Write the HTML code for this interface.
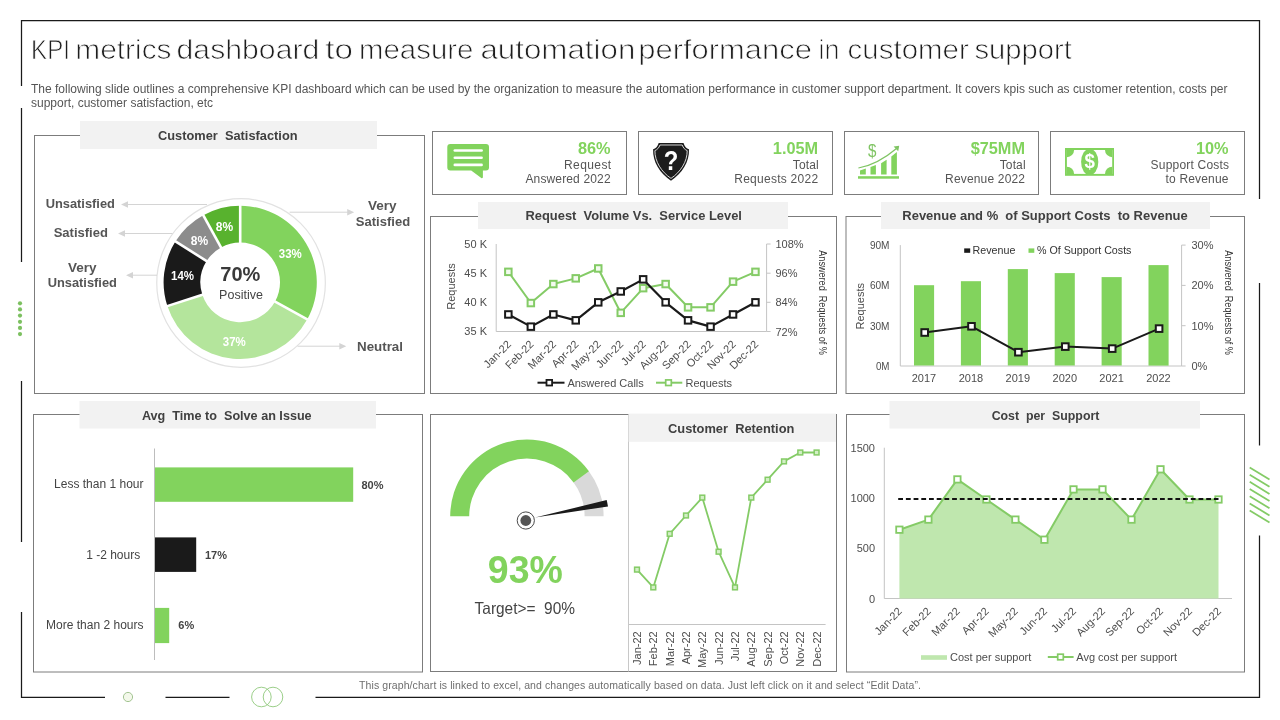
<!DOCTYPE html>
<html><head><meta charset="utf-8"><title>KPI metrics dashboard</title>
<style>
html,body{margin:0;padding:0;background:#fff;}
body{width:1280px;height:720px;overflow:hidden;font-family:"Liberation Sans",sans-serif;}
svg{display:block;will-change:transform;font-family:"Liberation Sans",sans-serif;}
</style></head><body>
<svg width="1280" height="720" viewBox="0 0 1280 720">
<rect width="1280" height="720" fill="#fff"/>
<g stroke="#1a1a1a" stroke-width="1.25" fill="none" stroke-linecap="butt">
<path d="M21.5 86 V20.5 H1259.5 V199"/>
<path d="M21.5 108 V262"/>
<path d="M21.5 381 V542"/>
<path d="M21.5 612 V697.4 H105"/>
<path d="M165.5 697.4 H229.5"/>
<path d="M315.5 697.4 H1259.5 V535.5"/>
<path d="M1259.5 283 V445.5"/>
</g>
<circle cx="20" cy="303.3" r="2.1" fill="#7cc060"/>
<circle cx="20" cy="309.4" r="2.1" fill="#7cc060"/>
<circle cx="20" cy="315.6" r="2.1" fill="#7cc060"/>
<circle cx="20" cy="321.8" r="2.1" fill="#7cc060"/>
<circle cx="20" cy="327.9" r="2.1" fill="#7cc060"/>
<circle cx="20" cy="334.1" r="2.1" fill="#7cc060"/>
<g stroke="#84cb66" stroke-width="1.8">
<line x1="1249.7" y1="467.5" x2="1269.5" y2="479.6"/>
<line x1="1249.7" y1="474.7" x2="1269.5" y2="486.8"/>
<line x1="1249.7" y1="481.8" x2="1269.5" y2="493.9"/>
<line x1="1249.7" y1="489.0" x2="1269.5" y2="501.1"/>
<line x1="1249.7" y1="496.2" x2="1269.5" y2="508.3"/>
<line x1="1249.7" y1="503.4" x2="1269.5" y2="515.5"/>
<line x1="1249.7" y1="510.5" x2="1269.5" y2="522.6"/>
</g>
<circle cx="128" cy="697" r="4.6" fill="#f3f8ea" stroke="#a3c492" stroke-width="1"/>
<circle cx="261.4" cy="697" r="9.8" fill="none" stroke="#9ccf8a" stroke-width="1"/>
<circle cx="273" cy="697" r="9.8" fill="none" stroke="#9ccf8a" stroke-width="1"/>
<text x="31.12" y="59" font-size="27" fill="#1e1e1e" stroke="#fff" stroke-width="0.75" textLength="38.84" lengthAdjust="spacingAndGlyphs">KPI</text>
<text x="75.39" y="59" font-size="27" fill="#1e1e1e" stroke="#fff" stroke-width="0.75" textLength="96.11" lengthAdjust="spacingAndGlyphs">metrics</text>
<text x="176.58" y="59" font-size="27" fill="#1e1e1e" stroke="#fff" stroke-width="0.75" textLength="142.72" lengthAdjust="spacingAndGlyphs">dashboard</text>
<text x="325.3" y="59" font-size="27" fill="#1e1e1e" stroke="#fff" stroke-width="0.75" textLength="27.79" lengthAdjust="spacingAndGlyphs">to</text>
<text x="359.02" y="59" font-size="27" fill="#1e1e1e" stroke="#fff" stroke-width="0.75" textLength="114.42" lengthAdjust="spacingAndGlyphs">measure</text>
<text x="480.44" y="59" font-size="27" fill="#1e1e1e" stroke="#fff" stroke-width="0.75" textLength="154.91" lengthAdjust="spacingAndGlyphs">automation</text>
<text x="638.31" y="59" font-size="27" fill="#1e1e1e" stroke="#fff" stroke-width="0.75" textLength="173.6" lengthAdjust="spacingAndGlyphs">performance</text>
<text x="818.61" y="59" font-size="27" fill="#1e1e1e" stroke="#fff" stroke-width="0.75" textLength="20.89" lengthAdjust="spacingAndGlyphs">in</text>
<text x="847.61" y="59" font-size="27" fill="#1e1e1e" stroke="#fff" stroke-width="0.75" textLength="121.14" lengthAdjust="spacingAndGlyphs">customer</text>
<text x="974.42" y="59" font-size="27" fill="#1e1e1e" stroke="#fff" stroke-width="0.75" textLength="97.45" lengthAdjust="spacingAndGlyphs">support</text>
<text x="31.0" y="92.5" font-size="12" text-anchor="start" fill="#555" font-weight="normal" textLength="1196.5" lengthAdjust="spacing">The following slide outlines a comprehensive KPI dashboard which can be used by the organization to measure the automation performance in customer support department. It covers kpis such as customer retention, costs per</text>
<text x="31.0" y="106.5" font-size="12" text-anchor="start" fill="#555" font-weight="normal" >support, customer satisfaction, etc</text>
<rect x="34.5" y="135.5" width="390.0" height="258.0" fill="#fff" stroke="#7c7c7c" stroke-width="1"/>
<rect x="80" y="121" width="297" height="28" fill="#f2f2f2"/><text x="227.8" y="139.8" font-size="13.3" text-anchor="middle" fill="#404040" font-weight="bold" xml:space="preserve" textLength="139.5" lengthAdjust="spacingAndGlyphs">Customer  Satisfaction</text>
<circle cx="241.05" cy="283" r="84.3" fill="#fff" stroke="#e2e2e2" stroke-width="1.2"/>
<path d="M240.20 205.80 A76.6 76.6 0 0 1 307.33 319.30 L275.08 301.57 A39.8 39.8 0 0 0 240.20 242.60 Z" fill="#82d35d"/>
<path d="M307.33 319.30 A76.6 76.6 0 0 1 167.35 306.07 L202.35 294.70 A39.8 39.8 0 0 0 275.08 301.57 Z" fill="#b4e59c"/>
<path d="M167.35 306.07 A76.6 76.6 0 0 1 175.52 241.36 L206.60 261.07 A39.8 39.8 0 0 0 202.35 294.70 Z" fill="#1a1a1a"/>
<path d="M175.52 241.36 A76.6 76.6 0 0 1 203.30 215.27 L221.03 247.52 A39.8 39.8 0 0 0 206.60 261.07 Z" fill="#8c8c8c"/>
<path d="M203.30 215.27 A76.6 76.6 0 0 1 240.20 205.80 L240.20 242.60 A39.8 39.8 0 0 0 221.03 247.52 Z" fill="#58b22e"/>
<line x1="240.20" y1="243.60" x2="240.20" y2="204.80" stroke="#fff" stroke-width="2.6"/>
<line x1="274.20" y1="301.09" x2="308.20" y2="319.78" stroke="#fff" stroke-width="2.6"/>
<line x1="203.30" y1="294.39" x2="166.40" y2="306.38" stroke="#fff" stroke-width="2.6"/>
<line x1="207.44" y1="261.61" x2="174.68" y2="240.82" stroke="#fff" stroke-width="2.6"/>
<line x1="221.51" y1="248.40" x2="202.82" y2="214.40" stroke="#fff" stroke-width="2.6"/>
<text x="290.3" y="257.6" font-size="12" text-anchor="middle" fill="#fff" font-weight="bold" textLength="23" lengthAdjust="spacingAndGlyphs">33%</text>
<text x="234.3" y="345.6" font-size="12" text-anchor="middle" fill="#fff" font-weight="bold" textLength="23" lengthAdjust="spacingAndGlyphs">37%</text>
<text x="182.5" y="279.9" font-size="12" text-anchor="middle" fill="#fff" font-weight="bold" textLength="23" lengthAdjust="spacingAndGlyphs">14%</text>
<text x="199.5" y="244.7" font-size="12" text-anchor="middle" fill="#fff" font-weight="bold" >8%</text>
<text x="224.4" y="230.6" font-size="12" text-anchor="middle" fill="#fff" font-weight="bold" >8%</text>
<text x="240.3" y="281.4" font-size="20" text-anchor="middle" fill="#3a3a3a" font-weight="bold" >70%</text>
<text x="241.0" y="299.1" font-size="12.5" text-anchor="middle" fill="#444" font-weight="normal" >Positive</text>
<text x="80.3" y="207.7" font-size="13.4" text-anchor="middle" fill="#555" font-weight="bold" textLength="69.3" lengthAdjust="spacingAndGlyphs">Unsatisfied</text>
<text x="80.8" y="236.5" font-size="13.4" text-anchor="middle" fill="#555" font-weight="bold" textLength="54.3" lengthAdjust="spacingAndGlyphs">Satisfied</text>
<text x="82.3" y="271.8" font-size="13.4" text-anchor="middle" fill="#555" font-weight="bold" textLength="28.6" lengthAdjust="spacingAndGlyphs">Very</text>
<text x="82.3" y="287.2" font-size="13.4" text-anchor="middle" fill="#555" font-weight="bold" textLength="69.3" lengthAdjust="spacingAndGlyphs">Unsatisfied</text>
<text x="382.3" y="209.7" font-size="13.4" text-anchor="middle" fill="#555" font-weight="bold" textLength="28.6" lengthAdjust="spacingAndGlyphs">Very</text>
<text x="383.0" y="225.5" font-size="13.4" text-anchor="middle" fill="#555" font-weight="bold" textLength="54.3" lengthAdjust="spacingAndGlyphs">Satisfied</text>
<text x="380.0" y="350.7" font-size="13.4" text-anchor="middle" fill="#555" font-weight="bold" textLength="46" lengthAdjust="spacingAndGlyphs">Neutral</text>
<line x1="126" y1="204.5" x2="207" y2="204.5" stroke="#d4d4d4" stroke-width="1"/><path d="M121 204.5 l7 -3.2 v6.4z" fill="#d4d4d4"/>
<line x1="123" y1="233.5" x2="172.5" y2="233.5" stroke="#d4d4d4" stroke-width="1"/><path d="M118 233.5 l7 -3.2 v6.4z" fill="#d4d4d4"/>
<line x1="131" y1="275.2" x2="157" y2="275.2" stroke="#d4d4d4" stroke-width="1"/><path d="M126 275.2 l7 -3.2 v6.4z" fill="#d4d4d4"/>
<line x1="289.6" y1="212.2" x2="349.2" y2="212.2" stroke="#d4d4d4" stroke-width="1"/><path d="M354.2 212.2 l-7 -3.2 v6.4z" fill="#d4d4d4"/>
<line x1="297.5" y1="346.2" x2="341.3" y2="346.2" stroke="#d4d4d4" stroke-width="1"/><path d="M346.3 346.2 l-7 -3.2 v6.4z" fill="#d4d4d4"/>
<rect x="432.5" y="131.5" width="194.0" height="63" fill="#fff" stroke="#7c7c7c" stroke-width="1"/>
<text x="610.6" y="153.6" font-size="16.3" text-anchor="end" fill="#82d35d" font-weight="bold" >86%</text>
<text x="611.2" y="169.2" font-size="12" text-anchor="end" fill="#555" font-weight="normal" textLength="47.2" lengthAdjust="spacing">Request</text>
<text x="610.6" y="183.2" font-size="12" text-anchor="end" fill="#555" font-weight="normal" textLength="85.2" lengthAdjust="spacing">Answered 2022</text>
<rect x="638.5" y="131.5" width="194.0" height="63" fill="#fff" stroke="#7c7c7c" stroke-width="1"/>
<text x="818.1" y="153.6" font-size="16.3" text-anchor="end" fill="#82d35d" font-weight="bold" >1.05M</text>
<text x="818.7" y="169.2" font-size="12" text-anchor="end" fill="#555" font-weight="normal" textLength="25.9" lengthAdjust="spacing">Total</text>
<text x="818.1" y="183.2" font-size="12" text-anchor="end" fill="#555" font-weight="normal" textLength="83.9" lengthAdjust="spacing">Requests 2022</text>
<rect x="844.5" y="131.5" width="194.0" height="63" fill="#fff" stroke="#7c7c7c" stroke-width="1"/>
<text x="1025.0" y="153.6" font-size="16.3" text-anchor="end" fill="#82d35d" font-weight="bold" >$75MM</text>
<text x="1025.6" y="169.2" font-size="12" text-anchor="end" fill="#555" font-weight="normal" textLength="25.9" lengthAdjust="spacing">Total</text>
<text x="1025.0" y="183.2" font-size="12" text-anchor="end" fill="#555" font-weight="normal" textLength="79.9" lengthAdjust="spacing">Revenue 2022</text>
<rect x="1050.5" y="131.5" width="194.0" height="63" fill="#fff" stroke="#7c7c7c" stroke-width="1"/>
<text x="1228.5" y="153.6" font-size="16.3" text-anchor="end" fill="#82d35d" font-weight="bold" >10%</text>
<text x="1229.1" y="169.2" font-size="12" text-anchor="end" fill="#555" font-weight="normal" textLength="78.5" lengthAdjust="spacing">Support Costs</text>
<text x="1228.5" y="183.2" font-size="12" text-anchor="end" fill="#555" font-weight="normal" textLength="63" lengthAdjust="spacing">to Revenue</text>
<path d="M450.3 144.1 H486 a3 3 0 0 1 3 3 V167.5 a3 3 0 0 1 -3 3 H482.9 V177.2 a1 1 0 0 1 -1.6 0.8 L471.2 170.5 H450.3 a3 3 0 0 1 -3 -3 V147.1 a3 3 0 0 1 3 -3 Z" fill="#82d35d"/>
<line x1="454.8" y1="150.5" x2="481.6" y2="150.5" stroke="#fff" stroke-width="2.6" stroke-linecap="round"/>
<line x1="454.8" y1="157.7" x2="481.6" y2="157.7" stroke="#fff" stroke-width="2.6" stroke-linecap="round"/>
<line x1="454.8" y1="164.9" x2="481.6" y2="164.9" stroke="#fff" stroke-width="2.6" stroke-linecap="round"/>
<path d="M658.7 143 H683.5 C684.5 146.5 686.5 148.5 689 149.2 C689.5 162 682 173.5 671 180.7 C660 173.5 652.6 162 653.1 149.2 C655.7 148.5 657.7 146.5 658.7 143 Z" fill="#1c1c1c"/>
<path d="M660 145 H682.2 C683.3 148 685 149.8 687.2 150.6 C687.3 161.5 680.7 171.8 671 178.4 C661.3 171.8 654.8 161.5 654.9 150.6 C657.1 149.8 658.9 148 660 145 Z" fill="none" stroke="#e8e8e8" stroke-width="0.9"/>
<text x="671.1" y="170.1" font-size="27" text-anchor="middle" fill="#fff" font-weight="bold" textLength="14.6" lengthAdjust="spacingAndGlyphs">?</text>
<rect x="858" y="176.2" width="41" height="2.5" fill="#82d35d"/>
<path d="M860 174.6 V170.5 L865.8 168.6 V174.6 Z" fill="#82d35d"/>
<path d="M870.5 174.6 V167 L875.9 165.1 V174.6 Z" fill="#82d35d"/>
<path d="M881.1 174.6 V163.2 L886.6 159.7 V174.6 Z" fill="#82d35d"/>
<path d="M891.3 174.6 V156.6 L896.9 152 V174.6 Z" fill="#82d35d"/>
<path d="M858.4 168 Q 877.6 164.5 896.8 148.2" fill="none" stroke="#7fc463" stroke-width="1.25"/>
<path d="M899.2 145.8 L893.6 146.6 L898.2 151.3 Z" fill="#7fc463"/>
<text x="872.3" y="156.7" font-size="17.5" text-anchor="middle" fill="#7fc463" font-weight="normal" textLength="8.4" lengthAdjust="spacingAndGlyphs">$</text>
<rect x="1065" y="148" width="49" height="27.8" fill="#82d35d"/>
<rect x="1066.9" y="150" width="45.3" height="23.9" fill="#fff"/>
<circle cx="1066.9" cy="150" r="7.2" fill="#82d35d" clip-path="url(#noteclip)"/>
<circle cx="1112.2" cy="150" r="7.2" fill="#82d35d" clip-path="url(#noteclip)"/>
<circle cx="1066.9" cy="173.9" r="7.2" fill="#82d35d" clip-path="url(#noteclip)"/>
<circle cx="1112.2" cy="173.9" r="7.2" fill="#82d35d" clip-path="url(#noteclip)"/>
<ellipse cx="1089.7" cy="161.9" rx="8.6" ry="13.2" fill="#82d35d" clip-path="url(#noteclip2)"/>
<text x="1089.7" y="168.3" font-size="20" text-anchor="middle" fill="#fff" font-weight="bold" textLength="10.4" lengthAdjust="spacingAndGlyphs">$</text>
<defs><clipPath id="noteclip"><rect x="1066.9" y="150" width="45.3" height="23.9"/></clipPath><clipPath id="noteclip2"><rect x="1065" y="148" width="49" height="27.8"/></clipPath></defs>
<rect x="430.5" y="216.5" width="406.0" height="177.0" fill="#fff" stroke="#7c7c7c" stroke-width="1"/>
<rect x="478" y="202" width="310" height="27" fill="#f2f2f2"/><text x="633.7" y="219.8" font-size="13.3" text-anchor="middle" fill="#404040" font-weight="bold" xml:space="preserve" textLength="216.5" lengthAdjust="spacingAndGlyphs">Request  Volume Vs.  Service Level</text>
<path d="M496.2 244 V331.5 H766.6 V244" fill="none" stroke="#c4c4c4" stroke-width="1"/>
<line x1="766.6" y1="244.0" x2="770.6" y2="244.0" stroke="#c4c4c4"/>
<text x="487.0" y="248.0" font-size="11" text-anchor="end" fill="#4d4d4d" font-weight="normal" >50 K</text>
<text x="775.5" y="248.0" font-size="11" text-anchor="start" fill="#4d4d4d" font-weight="normal" >108%</text>
<line x1="766.6" y1="273.2" x2="770.6" y2="273.2" stroke="#c4c4c4"/>
<text x="487.0" y="277.0" font-size="11" text-anchor="end" fill="#4d4d4d" font-weight="normal" >45 K</text>
<text x="775.5" y="277.2" font-size="11" text-anchor="start" fill="#4d4d4d" font-weight="normal" >96%</text>
<line x1="766.6" y1="302.3" x2="770.6" y2="302.3" stroke="#c4c4c4"/>
<text x="487.0" y="306.0" font-size="11" text-anchor="end" fill="#4d4d4d" font-weight="normal" >40 K</text>
<text x="775.5" y="306.3" font-size="11" text-anchor="start" fill="#4d4d4d" font-weight="normal" >84%</text>
<line x1="766.6" y1="331.5" x2="770.6" y2="331.5" stroke="#c4c4c4"/>
<text x="487.0" y="335.0" font-size="11" text-anchor="end" fill="#4d4d4d" font-weight="normal" >35 K</text>
<text x="775.5" y="335.5" font-size="11" text-anchor="start" fill="#4d4d4d" font-weight="normal" >72%</text>
<polyline points="508.4,271.8 530.9,303.0 553.3,284.0 575.8,278.4 598.2,268.5 620.7,312.8 643.2,288.2 665.6,284.0 688.1,307.3 710.5,307.3 733.0,281.7 755.5,271.8" fill="none" stroke="#84cb66" stroke-width="2" stroke-linejoin="round" />
<rect x="505.1" y="268.6" width="6.5" height="6.5" fill="#f4fbf0" stroke="#84cb66" stroke-width="2.0"/>
<rect x="527.6" y="299.8" width="6.5" height="6.5" fill="#f4fbf0" stroke="#84cb66" stroke-width="2.0"/>
<rect x="550.1" y="280.8" width="6.5" height="6.5" fill="#f4fbf0" stroke="#84cb66" stroke-width="2.0"/>
<rect x="572.5" y="275.1" width="6.5" height="6.5" fill="#f4fbf0" stroke="#84cb66" stroke-width="2.0"/>
<rect x="595.0" y="265.2" width="6.5" height="6.5" fill="#f4fbf0" stroke="#84cb66" stroke-width="2.0"/>
<rect x="617.5" y="309.6" width="6.5" height="6.5" fill="#f4fbf0" stroke="#84cb66" stroke-width="2.0"/>
<rect x="639.9" y="284.9" width="6.5" height="6.5" fill="#f4fbf0" stroke="#84cb66" stroke-width="2.0"/>
<rect x="662.4" y="280.8" width="6.5" height="6.5" fill="#f4fbf0" stroke="#84cb66" stroke-width="2.0"/>
<rect x="684.8" y="304.1" width="6.5" height="6.5" fill="#f4fbf0" stroke="#84cb66" stroke-width="2.0"/>
<rect x="707.3" y="304.1" width="6.5" height="6.5" fill="#f4fbf0" stroke="#84cb66" stroke-width="2.0"/>
<rect x="729.8" y="278.4" width="6.5" height="6.5" fill="#f4fbf0" stroke="#84cb66" stroke-width="2.0"/>
<rect x="752.2" y="268.6" width="6.5" height="6.5" fill="#f4fbf0" stroke="#84cb66" stroke-width="2.0"/>
<polyline points="508.4,314.5 530.9,326.6 553.3,314.5 575.8,320.4 598.2,302.3 620.7,291.5 643.2,279.4 665.6,302.3 688.1,320.4 710.5,326.6 733.0,314.5 755.5,302.3" fill="none" stroke="#1a1a1a" stroke-width="2.2" stroke-linejoin="round" />
<rect x="505.1" y="311.2" width="6.5" height="6.5" fill="#fff" stroke="#1a1a1a" stroke-width="2.0"/>
<rect x="527.6" y="323.4" width="6.5" height="6.5" fill="#fff" stroke="#1a1a1a" stroke-width="2.0"/>
<rect x="550.1" y="311.2" width="6.5" height="6.5" fill="#fff" stroke="#1a1a1a" stroke-width="2.0"/>
<rect x="572.5" y="317.1" width="6.5" height="6.5" fill="#fff" stroke="#1a1a1a" stroke-width="2.0"/>
<rect x="595.0" y="299.1" width="6.5" height="6.5" fill="#fff" stroke="#1a1a1a" stroke-width="2.0"/>
<rect x="617.5" y="288.2" width="6.5" height="6.5" fill="#fff" stroke="#1a1a1a" stroke-width="2.0"/>
<rect x="639.9" y="276.1" width="6.5" height="6.5" fill="#fff" stroke="#1a1a1a" stroke-width="2.0"/>
<rect x="662.4" y="299.1" width="6.5" height="6.5" fill="#fff" stroke="#1a1a1a" stroke-width="2.0"/>
<rect x="684.8" y="317.1" width="6.5" height="6.5" fill="#fff" stroke="#1a1a1a" stroke-width="2.0"/>
<rect x="707.3" y="323.4" width="6.5" height="6.5" fill="#fff" stroke="#1a1a1a" stroke-width="2.0"/>
<rect x="729.8" y="311.2" width="6.5" height="6.5" fill="#fff" stroke="#1a1a1a" stroke-width="2.0"/>
<rect x="752.2" y="299.1" width="6.5" height="6.5" fill="#fff" stroke="#1a1a1a" stroke-width="2.0"/>
<text transform="translate(511.9,345.0) rotate(-45)" font-size="11" text-anchor="end" fill="#4d4d4d" >Jan-22</text>
<text transform="translate(534.4,345.0) rotate(-45)" font-size="11" text-anchor="end" fill="#4d4d4d" >Feb-22</text>
<text transform="translate(556.8,345.0) rotate(-45)" font-size="11" text-anchor="end" fill="#4d4d4d" >Mar-22</text>
<text transform="translate(579.3,345.0) rotate(-45)" font-size="11" text-anchor="end" fill="#4d4d4d" >Apr-22</text>
<text transform="translate(601.7,345.0) rotate(-45)" font-size="11" text-anchor="end" fill="#4d4d4d" >May-22</text>
<text transform="translate(624.2,345.0) rotate(-45)" font-size="11" text-anchor="end" fill="#4d4d4d" >Jun-22</text>
<text transform="translate(646.7,345.0) rotate(-45)" font-size="11" text-anchor="end" fill="#4d4d4d" >Jul-22</text>
<text transform="translate(669.1,345.0) rotate(-45)" font-size="11" text-anchor="end" fill="#4d4d4d" >Aug-22</text>
<text transform="translate(691.6,345.0) rotate(-45)" font-size="11" text-anchor="end" fill="#4d4d4d" >Sep-22</text>
<text transform="translate(714.0,345.0) rotate(-45)" font-size="11" text-anchor="end" fill="#4d4d4d" >Oct-22</text>
<text transform="translate(736.5,345.0) rotate(-45)" font-size="11" text-anchor="end" fill="#4d4d4d" >Nov-22</text>
<text transform="translate(759.0,345.0) rotate(-45)" font-size="11" text-anchor="end" fill="#4d4d4d" >Dec-22</text>
<text transform="translate(454.5,286.5) rotate(-90)" font-size="11" text-anchor="middle" fill="#4d4d4d" >Requests</text>
<text transform="translate(818.6,302.6) rotate(90)" font-size="10" text-anchor="middle" fill="#333" xml:space="preserve" textLength="104.7" lengthAdjust="spacingAndGlyphs">Answered  Requests of %</text>
<line x1="537.5" y1="382.7" x2="564.5" y2="382.7" stroke="#1a1a1a" stroke-width="2"/><rect x="546.5" y="379.9" width="5.6" height="5.6" fill="#fff" stroke="#1a1a1a" stroke-width="1.8"/>
<text x="567.4" y="386.5" font-size="11" text-anchor="start" fill="#4d4d4d" font-weight="normal" >Answered Calls</text>
<line x1="656" y1="382.7" x2="682.3" y2="382.7" stroke="#84cb66" stroke-width="2"/><rect x="665.7" y="379.9" width="5.6" height="5.6" fill="#fff" stroke="#84cb66" stroke-width="1.7"/>
<text x="685.5" y="386.5" font-size="11" text-anchor="start" fill="#4d4d4d" font-weight="normal" >Requests</text>
<rect x="846" y="216.5" width="398.5" height="177.0" fill="#fff" stroke="#7c7c7c" stroke-width="1"/>
<rect x="881" y="202" width="329" height="27" fill="#f2f2f2"/><text x="1045.0" y="219.8" font-size="13.3" text-anchor="middle" fill="#404040" font-weight="bold" xml:space="preserve" textLength="285.4" lengthAdjust="spacingAndGlyphs">Revenue and %  of Support Costs  to Revenue</text>
<path d="M900.3 245.1 V366 H1181.6 V245.1" fill="none" stroke="#c4c4c4" stroke-width="1"/>
<line x1="1181.6" y1="245.1" x2="1185.6" y2="245.1" stroke="#c4c4c4"/>
<text x="889.5" y="249.1" font-size="11" text-anchor="end" fill="#4d4d4d" font-weight="normal" textLength="19.6" lengthAdjust="spacingAndGlyphs">90M</text>
<text x="1191.5" y="249.1" font-size="11" text-anchor="start" fill="#4d4d4d" font-weight="normal" >30%</text>
<line x1="1181.6" y1="285.4" x2="1185.6" y2="285.4" stroke="#c4c4c4"/>
<text x="889.5" y="289.4" font-size="11" text-anchor="end" fill="#4d4d4d" font-weight="normal" textLength="19.6" lengthAdjust="spacingAndGlyphs">60M</text>
<text x="1191.5" y="289.4" font-size="11" text-anchor="start" fill="#4d4d4d" font-weight="normal" >20%</text>
<line x1="1181.6" y1="325.7" x2="1185.6" y2="325.7" stroke="#c4c4c4"/>
<text x="889.5" y="329.7" font-size="11" text-anchor="end" fill="#4d4d4d" font-weight="normal" textLength="19.6" lengthAdjust="spacingAndGlyphs">30M</text>
<text x="1191.5" y="329.7" font-size="11" text-anchor="start" fill="#4d4d4d" font-weight="normal" >10%</text>
<line x1="1181.6" y1="366.0" x2="1185.6" y2="366.0" stroke="#c4c4c4"/>
<text x="889.5" y="370.0" font-size="11" text-anchor="end" fill="#4d4d4d" font-weight="normal" textLength="13.6" lengthAdjust="spacingAndGlyphs">0M</text>
<text x="1191.5" y="370.0" font-size="11" text-anchor="start" fill="#4d4d4d" font-weight="normal" >0%</text>
<rect x="914.0" y="285.2" width="20.1" height="80.3" fill="#82d35d"/>
<rect x="960.9" y="281.2" width="20.1" height="84.3" fill="#82d35d"/>
<rect x="1007.8" y="269.1" width="20.1" height="96.4" fill="#82d35d"/>
<rect x="1054.7" y="273.1" width="20.1" height="92.4" fill="#82d35d"/>
<rect x="1101.6" y="277.1" width="20.1" height="88.4" fill="#82d35d"/>
<rect x="1148.5" y="265.1" width="20.1" height="100.5" fill="#82d35d"/>
<polyline points="924.6,332.5 971.5,326.3 1018.4,352.2 1065.3,346.6 1112.2,348.6 1159.1,328.6" fill="none" stroke="#1a1a1a" stroke-width="2" stroke-linejoin="round" />
<rect x="921.4" y="329.2" width="6.6" height="6.6" fill="#fff" stroke="#1a1a1a" stroke-width="2.0"/>
<rect x="968.2" y="323.0" width="6.6" height="6.6" fill="#fff" stroke="#1a1a1a" stroke-width="2.0"/>
<rect x="1015.1" y="348.9" width="6.6" height="6.6" fill="#fff" stroke="#1a1a1a" stroke-width="2.0"/>
<rect x="1062.0" y="343.3" width="6.6" height="6.6" fill="#fff" stroke="#1a1a1a" stroke-width="2.0"/>
<rect x="1108.9" y="345.3" width="6.6" height="6.6" fill="#fff" stroke="#1a1a1a" stroke-width="2.0"/>
<rect x="1155.8" y="325.3" width="6.6" height="6.6" fill="#fff" stroke="#1a1a1a" stroke-width="2.0"/>
<text x="924.0" y="382.3" font-size="11" text-anchor="middle" fill="#4d4d4d" font-weight="normal" >2017</text>
<text x="970.9" y="382.3" font-size="11" text-anchor="middle" fill="#4d4d4d" font-weight="normal" >2018</text>
<text x="1017.8" y="382.3" font-size="11" text-anchor="middle" fill="#4d4d4d" font-weight="normal" >2019</text>
<text x="1064.8" y="382.3" font-size="11" text-anchor="middle" fill="#4d4d4d" font-weight="normal" >2020</text>
<text x="1111.6" y="382.3" font-size="11" text-anchor="middle" fill="#4d4d4d" font-weight="normal" >2021</text>
<text x="1158.5" y="382.3" font-size="11" text-anchor="middle" fill="#4d4d4d" font-weight="normal" >2022</text>
<text transform="translate(864.2,306.3) rotate(-90)" font-size="11" text-anchor="middle" fill="#4d4d4d" >Requests</text>
<text transform="translate(1224.6,302.6) rotate(90)" font-size="10" text-anchor="middle" fill="#333" xml:space="preserve" textLength="104.7" lengthAdjust="spacingAndGlyphs">Answered  Requests of %</text>
<rect x="964.2" y="248.4" width="6" height="4.4" fill="#1a1a1a"/><text x="972.6" y="254.4" font-size="10.7" text-anchor="start" fill="#333" font-weight="normal" >Revenue</text>
<rect x="1028.5" y="248.4" width="5.8" height="4.4" fill="#82d35d"/><text x="1037.0" y="254.4" font-size="10.7" text-anchor="start" fill="#333" font-weight="normal" >% Of Support Costs</text>
<rect x="33.5" y="414.5" width="389.0" height="257.5" fill="#fff" stroke="#7c7c7c" stroke-width="1"/>
<rect x="79.5" y="401" width="296.5" height="27.5" fill="#f2f2f2"/><text x="226.8" y="419.8" font-size="13.3" text-anchor="middle" fill="#404040" font-weight="bold" xml:space="preserve" textLength="169.7" lengthAdjust="spacingAndGlyphs">Avg  Time to  Solve an Issue</text>
<line x1="154.5" y1="448.5" x2="154.5" y2="660" stroke="#bdbdbd" stroke-width="1"/>
<rect x="155" y="467.4" width="198.2" height="34.4" fill="#82d35d"/>
<rect x="155" y="537.4" width="41.2" height="34.5" fill="#1a1a1a"/>
<rect x="155" y="607.9" width="14.2" height="35.2" fill="#82d35d"/>
<text x="143.5" y="488.0" font-size="12" text-anchor="end" fill="#444" font-weight="normal" >Less than 1 hour</text>
<text x="140.2" y="559.2" font-size="12" text-anchor="end" fill="#444" font-weight="normal" >1 -2 hours</text>
<text x="143.5" y="628.7" font-size="12" text-anchor="end" fill="#444" font-weight="normal" >More than 2 hours</text>
<text x="361.5" y="488.5" font-size="11" text-anchor="start" fill="#444" font-weight="bold" >80%</text>
<text x="204.9" y="559.0" font-size="11" text-anchor="start" fill="#444" font-weight="bold" >17%</text>
<text x="178.3" y="628.5" font-size="11" text-anchor="start" fill="#444" font-weight="bold" >6%</text>
<rect x="430.5" y="414.5" width="406.0" height="257.0" fill="#fff" stroke="#7c7c7c" stroke-width="1"/>
<line x1="628.5" y1="414.5" x2="628.5" y2="671.5" stroke="#c8c8c8" stroke-width="1"/>
<rect x="628.6" y="413.6" width="207.4" height="28.2" fill="#f2f2f2"/>
<text x="731.2" y="432.8" font-size="13.3" text-anchor="middle" fill="#404040" font-weight="bold" xml:space="preserve" textLength="126.4" lengthAdjust="spacingAndGlyphs">Customer  Retention</text>
<path d="M588.56 470.68 A76.7 76.7 0 0 1 603.60 516.30 L584.60 516.30 A57.7 57.7 0 0 0 573.28 481.98 Z" fill="#d9d9d9"/>
<path d="M450.20 516.30 A76.7 76.7 0 0 1 588.95 471.22 L573.58 482.38 A57.7 57.7 0 0 0 469.20 516.30 Z" fill="#82d35d"/>
<path d="M535 517.6 L606.7 500 L608 506.4 Z" fill="#1a1a1a"/>
<circle cx="525.8" cy="520.5" r="8.6" fill="#fff" stroke="#333" stroke-width="0.9"/>
<circle cx="525.8" cy="520.5" r="5.4" fill="#555"/>
<text x="525.3" y="583.2" font-size="38" text-anchor="middle" fill="#82d35d" font-weight="bold" textLength="75" lengthAdjust="spacingAndGlyphs">93%</text>
<text x="524.8" y="613.8" font-size="16.5" text-anchor="middle" fill="#444" font-weight="normal" xml:space="preserve" textLength="100.4" lengthAdjust="spacingAndGlyphs">Target&gt;=  90%</text>
<line x1="629" y1="624.5" x2="825.6" y2="624.5" stroke="#c4c4c4" stroke-width="1"/>
<polyline points="637.0,569.6 653.3,587.4 669.7,533.8 686.0,515.5 702.3,497.6 718.6,551.7 735.0,587.4 751.3,497.6 767.6,479.7 784.0,461.4 800.3,452.5 816.6,452.5" fill="none" stroke="#84cb66" stroke-width="1.8" stroke-linejoin="round" />
<rect x="634.6" y="567.2" width="4.8" height="4.8" fill="#d3efc6" stroke="#84cb66" stroke-width="1.5"/>
<rect x="650.9" y="585.0" width="4.8" height="4.8" fill="#d3efc6" stroke="#84cb66" stroke-width="1.5"/>
<rect x="667.3" y="531.4" width="4.8" height="4.8" fill="#d3efc6" stroke="#84cb66" stroke-width="1.5"/>
<rect x="683.6" y="513.1" width="4.8" height="4.8" fill="#d3efc6" stroke="#84cb66" stroke-width="1.5"/>
<rect x="699.9" y="495.2" width="4.8" height="4.8" fill="#d3efc6" stroke="#84cb66" stroke-width="1.5"/>
<rect x="716.2" y="549.3" width="4.8" height="4.8" fill="#d3efc6" stroke="#84cb66" stroke-width="1.5"/>
<rect x="732.6" y="585.0" width="4.8" height="4.8" fill="#d3efc6" stroke="#84cb66" stroke-width="1.5"/>
<rect x="748.9" y="495.2" width="4.8" height="4.8" fill="#d3efc6" stroke="#84cb66" stroke-width="1.5"/>
<rect x="765.2" y="477.3" width="4.8" height="4.8" fill="#d3efc6" stroke="#84cb66" stroke-width="1.5"/>
<rect x="781.6" y="459.0" width="4.8" height="4.8" fill="#d3efc6" stroke="#84cb66" stroke-width="1.5"/>
<rect x="797.9" y="450.1" width="4.8" height="4.8" fill="#d3efc6" stroke="#84cb66" stroke-width="1.5"/>
<rect x="814.2" y="450.1" width="4.8" height="4.8" fill="#d3efc6" stroke="#84cb66" stroke-width="1.5"/>
<text transform="translate(641.0,631.3) rotate(-90)" font-size="11" text-anchor="end" fill="#4d4d4d" >Jan-22</text>
<text transform="translate(657.3,631.3) rotate(-90)" font-size="11" text-anchor="end" fill="#4d4d4d" >Feb-22</text>
<text transform="translate(673.7,631.3) rotate(-90)" font-size="11" text-anchor="end" fill="#4d4d4d" >Mar-22</text>
<text transform="translate(690.0,631.3) rotate(-90)" font-size="11" text-anchor="end" fill="#4d4d4d" >Apr-22</text>
<text transform="translate(706.3,631.3) rotate(-90)" font-size="11" text-anchor="end" fill="#4d4d4d" >May-22</text>
<text transform="translate(722.6,631.3) rotate(-90)" font-size="11" text-anchor="end" fill="#4d4d4d" >Jun-22</text>
<text transform="translate(739.0,631.3) rotate(-90)" font-size="11" text-anchor="end" fill="#4d4d4d" >Jul-22</text>
<text transform="translate(755.3,631.3) rotate(-90)" font-size="11" text-anchor="end" fill="#4d4d4d" >Aug-22</text>
<text transform="translate(771.6,631.3) rotate(-90)" font-size="11" text-anchor="end" fill="#4d4d4d" >Sep-22</text>
<text transform="translate(788.0,631.3) rotate(-90)" font-size="11" text-anchor="end" fill="#4d4d4d" >Oct-22</text>
<text transform="translate(804.3,631.3) rotate(-90)" font-size="11" text-anchor="end" fill="#4d4d4d" >Nov-22</text>
<text transform="translate(820.6,631.3) rotate(-90)" font-size="11" text-anchor="end" fill="#4d4d4d" >Dec-22</text>
<rect x="846.5" y="414.5" width="398.0" height="257.5" fill="#fff" stroke="#7c7c7c" stroke-width="1"/>
<rect x="889.5" y="401" width="310.5" height="27.5" fill="#f2f2f2"/><text x="1045.5" y="419.8" font-size="13.3" text-anchor="middle" fill="#404040" font-weight="bold" xml:space="preserve" textLength="107.7" lengthAdjust="spacingAndGlyphs">Cost  per  Support</text>
<path d="M884.3 447.7 V598.5 H1232" fill="none" stroke="#c4c4c4" stroke-width="1"/>
<text x="875.0" y="602.5" font-size="11" text-anchor="end" fill="#4d4d4d" font-weight="normal" >0</text>
<text x="875.0" y="552.2" font-size="11" text-anchor="end" fill="#4d4d4d" font-weight="normal" >500</text>
<text x="875.0" y="501.9" font-size="11" text-anchor="end" fill="#4d4d4d" font-weight="normal" >1000</text>
<text x="875.0" y="451.6" font-size="11" text-anchor="end" fill="#4d4d4d" font-weight="normal" >1500</text>
<polygon points="899.4,529.7 928.4,519.6 957.4,479.4 986.4,499.5 1015.4,519.6 1044.5,539.7 1073.5,489.4 1102.5,489.4 1131.5,519.6 1160.5,469.3 1189.5,499.5 1218.5,499.5 1218.5,598.5 899.4,598.5" fill="#bfe7ae"/>
<polyline points="899.4,529.7 928.4,519.6 957.4,479.4 986.4,499.5 1015.4,519.6 1044.5,539.7 1073.5,489.4 1102.5,489.4 1131.5,519.6 1160.5,469.3 1189.5,499.5 1218.5,499.5" fill="none" stroke="#84cb66" stroke-width="2" stroke-linejoin="round" />
<rect x="896.2" y="526.5" width="6.4" height="6.4" fill="#fff" stroke="#84cb66" stroke-width="1.8"/>
<rect x="925.2" y="516.4" width="6.4" height="6.4" fill="#fff" stroke="#84cb66" stroke-width="1.8"/>
<rect x="954.2" y="476.2" width="6.4" height="6.4" fill="#fff" stroke="#84cb66" stroke-width="1.8"/>
<rect x="983.2" y="496.3" width="6.4" height="6.4" fill="#fff" stroke="#84cb66" stroke-width="1.8"/>
<rect x="1012.2" y="516.4" width="6.4" height="6.4" fill="#fff" stroke="#84cb66" stroke-width="1.8"/>
<rect x="1041.2" y="536.5" width="6.4" height="6.4" fill="#fff" stroke="#84cb66" stroke-width="1.8"/>
<rect x="1070.3" y="486.2" width="6.4" height="6.4" fill="#fff" stroke="#84cb66" stroke-width="1.8"/>
<rect x="1099.3" y="486.2" width="6.4" height="6.4" fill="#fff" stroke="#84cb66" stroke-width="1.8"/>
<rect x="1128.3" y="516.4" width="6.4" height="6.4" fill="#fff" stroke="#84cb66" stroke-width="1.8"/>
<rect x="1157.3" y="466.1" width="6.4" height="6.4" fill="#fff" stroke="#84cb66" stroke-width="1.8"/>
<rect x="1186.3" y="496.3" width="6.4" height="6.4" fill="#fff" stroke="#84cb66" stroke-width="1.8"/>
<rect x="1215.3" y="496.3" width="6.4" height="6.4" fill="#fff" stroke="#84cb66" stroke-width="1.8"/>
<line x1="898.2" y1="499" x2="1218.5" y2="499" stroke="#111" stroke-width="2" stroke-dasharray="4.8 2.9"/>
<text transform="translate(902.7,612.0) rotate(-45)" font-size="11" text-anchor="end" fill="#4d4d4d" >Jan-22</text>
<text transform="translate(931.7,612.0) rotate(-45)" font-size="11" text-anchor="end" fill="#4d4d4d" >Feb-22</text>
<text transform="translate(960.7,612.0) rotate(-45)" font-size="11" text-anchor="end" fill="#4d4d4d" >Mar-22</text>
<text transform="translate(989.7,612.0) rotate(-45)" font-size="11" text-anchor="end" fill="#4d4d4d" >Apr-22</text>
<text transform="translate(1018.7,612.0) rotate(-45)" font-size="11" text-anchor="end" fill="#4d4d4d" >May-22</text>
<text transform="translate(1047.8,612.0) rotate(-45)" font-size="11" text-anchor="end" fill="#4d4d4d" >Jun-22</text>
<text transform="translate(1076.8,612.0) rotate(-45)" font-size="11" text-anchor="end" fill="#4d4d4d" >Jul-22</text>
<text transform="translate(1105.8,612.0) rotate(-45)" font-size="11" text-anchor="end" fill="#4d4d4d" >Aug-22</text>
<text transform="translate(1134.8,612.0) rotate(-45)" font-size="11" text-anchor="end" fill="#4d4d4d" >Sep-22</text>
<text transform="translate(1163.8,612.0) rotate(-45)" font-size="11" text-anchor="end" fill="#4d4d4d" >Oct-22</text>
<text transform="translate(1192.8,612.0) rotate(-45)" font-size="11" text-anchor="end" fill="#4d4d4d" >Nov-22</text>
<text transform="translate(1221.8,612.0) rotate(-45)" font-size="11" text-anchor="end" fill="#4d4d4d" >Dec-22</text>
<rect x="921" y="655.2" width="26" height="4.6" fill="#bfe7ae"/>
<text x="950.0" y="661.0" font-size="11" text-anchor="start" fill="#4d4d4d" font-weight="normal" >Cost per support</text>
<line x1="1047.8" y1="657" x2="1073.6" y2="657" stroke="#84cb66" stroke-width="2"/><rect x="1057.7" y="654.2" width="5.6" height="5.6" fill="#fff" stroke="#84cb66" stroke-width="1.7"/>
<text x="1076.3" y="661.0" font-size="11" text-anchor="start" fill="#4d4d4d" font-weight="normal" >Avg cost per support</text>
<text x="359.0" y="689.0" font-size="10.5" text-anchor="start" fill="#6e6e6e" font-weight="normal" textLength="562" lengthAdjust="spacing">This graph/chart is linked to excel, and changes automatically based on data. Just left click on it and select “Edit Data”.</text>
</svg></body></html>
